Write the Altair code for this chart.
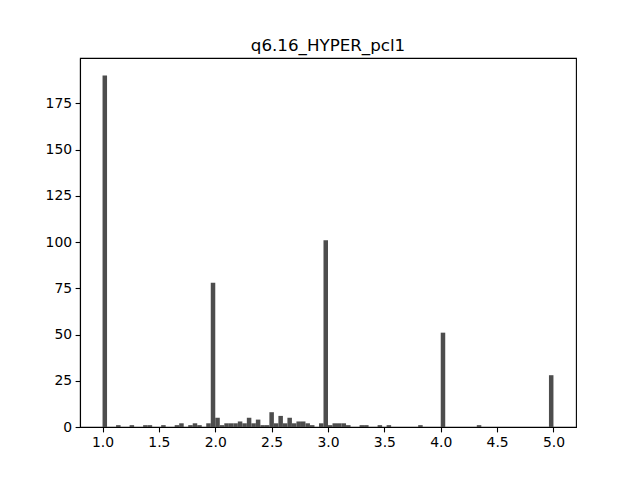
import altair as alt
import pandas as pd

# histogramme q6.16_HYPER_pcl1 : 100 classes de largeur 0.04 entre 1 et 5
# seules les classes non vides sont listees (bord gauche, effectif)
bin_left = [1.00, 1.12, 1.24, 1.36, 1.40, 1.52, 1.64, 1.68, 1.76, 1.80,
            1.84, 1.92, 1.96, 2.00, 2.04, 2.08, 2.12, 2.16, 2.20, 2.24,
            2.28, 2.32, 2.36, 2.40, 2.44, 2.48, 2.52, 2.56, 2.60, 2.64,
            2.68, 2.72, 2.76, 2.80, 2.84, 2.92, 2.96, 3.00, 3.04, 3.08,
            3.12, 3.16, 3.28, 3.32, 3.44, 3.52, 3.80, 4.00, 4.32, 4.96]
counts = [190, 1, 1, 1, 1, 1, 1, 2, 1, 2,
          1, 2, 78, 5, 1, 2, 2, 2, 3, 2,
          5, 2, 4, 1, 1, 8, 2, 6, 2, 5,
          2, 3, 3, 2, 1, 2, 101, 1, 2, 2,
          2, 1, 1, 1, 1, 1, 1, 51, 1, 28]
bin_width = 0.04

x_ticks = [1.0, 1.5, 2.0, 2.5, 3.0, 3.5, 4.0, 4.5, 5.0]
y_ticks = [0, 25, 50, 75, 100, 125, 150, 175]

df = pd.DataFrame({'left': bin_left, 'count': counts})
df['right'] = df['left'] + bin_width

chart = alt.Chart(df).mark_bar(color='#4d4d4d', strokeWidth=0).encode(
    x=alt.X('left:Q', scale=alt.Scale(domain=[0.8, 5.2], nice=False, zero=False, padding=0),
            axis=alt.Axis(values=x_ticks, format='.1f', title=None, grid=False)),
    x2='right:Q',
    y=alt.Y('count:Q', scale=alt.Scale(domain=[0, 199.5], nice=False, padding=0),
            axis=alt.Axis(values=y_ticks, format='d', title=None, grid=False)),
    y2=alt.datum(0),
).properties(
    width=496, height=369,
    title=alt.TitleParams('q6.16_HYPER_pcl1', font='DejaVu Sans', fontSize=16.7,
                          fontWeight='normal', color='black', baseline='alphabetic', offset=-10),
    padding={'left': 72, 'top': 50, 'right': 56, 'bottom': 45},
    autosize='none',
).configure_view(
    stroke='black', strokeWidth=1.1
).configure_axis(
    domainColor='black', domainWidth=1.1, tickColor='black', tickWidth=1.1, tickSize=4.9,
    labelFont='DejaVu Sans', labelFontSize=13.9, labelColor='black', labelPadding=3.5
)

chart.save("out.html", embed_options={"renderer": "svg", "actions": False})
